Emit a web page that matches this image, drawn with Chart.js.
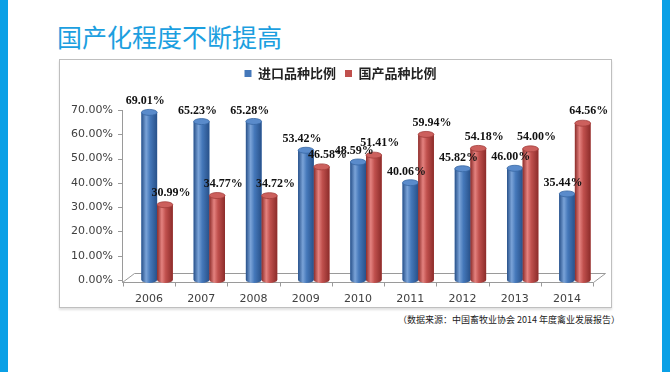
<!DOCTYPE html>
<html>
<head>
<meta charset="utf-8">
<script src="https://cdn.jsdelivr.net/npm/chart.js@4.4.1/dist/chart.umd.min.js"></script>
<style>
  html,body{margin:0;padding:0;background:#fff;}
  body{width:670px;height:372px;position:relative;overflow:hidden;}
  .sideL{position:absolute;left:0;top:0;width:8px;height:372px;background:#0AA0E6;}
  .sideR{position:absolute;left:662px;top:0;width:8px;height:372px;background:#0AA0E6;}
  .title{position:absolute;left:57px;top:24px;font-family:"Noto Sans CJK SC";font-size:25px;line-height:25px;color:#1C9FE0;white-space:nowrap;}
  .box{position:absolute;left:59px;top:59px;width:551px;height:247px;border:1px solid #BFBFBF;box-shadow:0 2px 2px rgba(0,0,0,0.12);background:#fff;}
  .box canvas{position:absolute;left:0;top:0;}
  .note{position:absolute;left:398px;top:314px;font-family:"Noto Sans CJK SC";font-size:9px;line-height:12px;color:#222;white-space:nowrap;}
</style>
</head>
<body>
<div class="sideL"></div>
<div class="sideR"></div>
<div class="title">国产化程度不断提高</div>
<div class="box"><canvas id="c" width="551" height="247"></canvas></div>
<div class="note">（数据来源：中国畜牧业协会 2014 年度禽业发展报告）</div>
<script>
const years = ['2006','2007','2008','2009','2010','2011','2012','2013','2014'];
const importShare = [69.01, 65.23, 65.28, 53.42, 48.59, 40.06, 45.82, 46.00, 35.44];
const domesticShare = [30.99, 34.77, 34.72, 46.58, 51.41, 59.94, 54.18, 54.00, 64.56];
const seriesNames = ['进口品种比例', '国产品种比例'];
const yTickValues = [0, 10, 20, 30, 40, 50, 60, 70];

const palettes = [
  {base:'#4578BA', dark:'#28518A', light:'#7AA3D8', top:'#5A8BCB', topEdge:'#3767A3', label:-4},
  {base:'#C0504D', dark:'#8C2C2A', light:'#E4827F', top:'#CC605D', topEdge:'#A23E3B', label:6}
];

const legendShift = {
  id:'legendShift',
  beforeLayout(chart){
    const lg = chart.legend;
    if (lg && !lg._patched){
      lg._patched = true;
      const of = lg.fit;
      lg.fit = function(){ of.call(this); if (this.isHorizontal()) this.height = 50; };
      const od = lg.draw;
      lg.draw = function(){ const ctx=this.ctx; ctx.save(); ctx.translate(10,-2); od.call(this); ctx.restore(); };
    }
  }
};

const floorAxis = {
  id:'floorAxis',
  beforeDatasetsDraw(chart){
    const {ctx, chartArea:{left:L,right:R,bottom:B}, scales:{y}} = chart;
    const n = years.length, cw = (R-L)/n;
    ctx.save();
    ctx.strokeStyle = '#9A9A9A';
    ctx.lineWidth = 1;
    ctx.beginPath();
    ctx.moveTo(L-8.5, B+2.5); ctx.lineTo(R-7.5, B+2.5);
    ctx.lineTo(R+4.5, B-6.5); ctx.lineTo(L+3.5, B-6.5);
    ctx.closePath();
    ctx.stroke();
    ctx.beginPath();
    ctx.moveTo(L-8.5, B+2.5); ctx.lineTo(L-8.5, y.getPixelForValue(70));
    yTickValues.forEach(v=>{
      const py = Math.round(y.getPixelForValue(v))+0.5;
      ctx.moveTo(L-13, py); ctx.lineTo(L-8.5, py);
    });
    for(let k=0;k<=n;k++){
      const px = Math.round(L-8 + k*cw)+0.5;
      ctx.moveTo(px, B+2.5); ctx.lineTo(px, B+6.5);
    }
    ctx.stroke();
    ctx.restore();
  }
};

const cylinders = {
  id:'cylinders',
  afterDatasetsDraw(chart){
    const ctx = chart.ctx;
    ctx.save();
    chart.data.datasets.forEach((ds, di)=>{
      const meta = chart.getDatasetMeta(di);
      const p = palettes[di];
      meta.data.forEach((el)=>{
        const {x, y, base, width} = el.getProps(['x','y','base','width'], true);
        const l = x - width/2, rx = width/2, ry = 3;
        const g = ctx.createLinearGradient(l, 0, l+width, 0);
        g.addColorStop(0, p.dark);
        g.addColorStop(0.3, p.light);
        g.addColorStop(0.55, p.base);
        g.addColorStop(1, p.dark);
        ctx.fillStyle = g;
        ctx.beginPath();
        ctx.moveTo(l, y);
        ctx.lineTo(l, base);
        ctx.ellipse(x, base, rx, ry, 0, Math.PI, 0, true);
        ctx.lineTo(l+width, y);
        ctx.closePath();
        ctx.fill();
        ctx.beginPath();
        ctx.ellipse(x, y, rx, ry, 0, 0, Math.PI*2);
        ctx.fillStyle = p.top;
        ctx.fill();
        ctx.strokeStyle = p.topEdge;
        ctx.lineWidth = 0.8;
        ctx.stroke();
      });
    });
    ctx.font = 'bold 12px "Liberation Serif"';
    ctx.fillStyle = '#111';
    ctx.textAlign = 'center';
    ctx.textBaseline = 'middle';
    chart.data.datasets.forEach((ds, di)=>{
      const meta = chart.getDatasetMeta(di);
      meta.data.forEach((el, i)=>{
        const {x, y} = el.getProps(['x','y'], true);
        ctx.fillText(ds.data[i].toFixed(2)+'%', x + palettes[di].label, y - (di===0?11:12));
      });
    });
    ctx.restore();
  }
};

new Chart(document.getElementById('c'), {
  type:'bar',
  data:{
    labels: years,
    datasets:[
      {label: seriesNames[0], data: importShare, backgroundColor:'#4578BA', borderWidth:0},
      {label: seriesNames[1], data: domesticShare, backgroundColor:'#C0504D', borderWidth:0}
    ]
  },
  options:{
    responsive:false,
    animation:false,
    devicePixelRatio:1,
    layout:{padding:{left:0,right:10,top:0,bottom:0}},
    categoryPercentage:0.6,
    barPercentage:1.0,
    plugins:{
      legend:{
        position:'top',
        labels:{
          boxWidth:7, boxHeight:7, padding:9,
          color:'#222',
          font:{family:'"Noto Sans CJK SC"', size:13, weight:'bold'}
        }
      },
      tooltip:{enabled:false}
    },
    scales:{
      x:{
        grid:{display:false},
        border:{display:false},
        ticks:{
          color:'#404040', padding:5, labelOffset:-8,
          font:{family:'"DejaVu Sans"', size:11}
        },
        afterFit(s){ s.height = 27; }
      },
      y:{
        min:0, max:70,
        grid:{display:false},
        border:{display:false},
        afterBuildTicks(s){ s.ticks = yTickValues.map(v=>({value:v})); },
        ticks:{
          color:'#404040', padding:10,
          font:{family:'"DejaVu Sans"', size:11},
          callback:(v)=>Number(v).toFixed(2)+'%'
        },
        afterFit(s){ s.width = 71; }
      }
    }
  },
  plugins:[legendShift, floorAxis, cylinders]
});
</script>
</body>
</html>
